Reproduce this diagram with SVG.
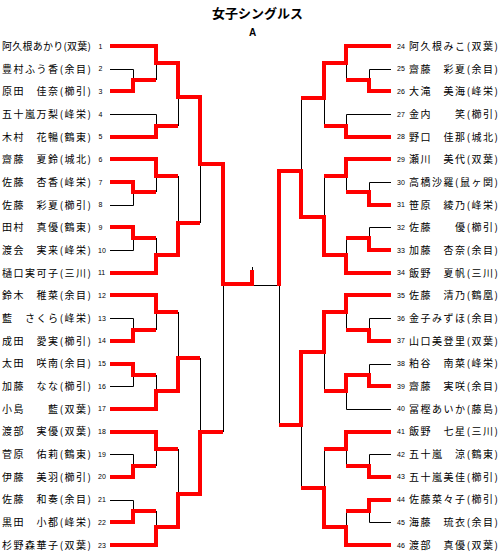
<svg xmlns="http://www.w3.org/2000/svg" width="503" height="559" viewBox="0 0 503 559">
<style>
.bg{fill:#ffffff}
.nm{font-family:"Noto Sans CJK JP","Noto Sans CJK SC",sans-serif;font-size:10px;fill:#000}
.num{font-family:"Liberation Sans",Arial,sans-serif;font-size:7px;fill:#000}
.ttl{font-family:"Noto Sans CJK JP",sans-serif;font-size:13px;font-weight:bold;fill:#000}
.ttlA{font-family:"Liberation Sans",Arial,sans-serif;font-size:10px;font-weight:bold;fill:#000}
.b{fill:none;stroke:#000;stroke-width:1}
.r{fill:none;stroke:#ff0000;stroke-width:4;stroke-linejoin:miter;stroke-linecap:butt}
</style>
<rect class="bg" x="0" y="0" width="503" height="559"/>
<g id="title">
<text class="ttl" x="257.5" y="18" text-anchor="middle">女子シングルス</text>
<text class="ttlA" x="252.5" y="36" text-anchor="middle">A</text>
</g>
<g id="connectors">
<!-- black skeleton -->
<path class="b" d="M110,69.5H133.5V80 M156.5,63V80 M110,114.5H156.5V126 M178.5,97V126"/>
<path class="b" d="M110,205.5H133.5V192 M156.5,176V192 M110,250.5H133.5V238 M156.5,238V255 M178.5,176V223 M200.5,164V223"/>
<path class="b" d="M110,318.5H133.5V330 M156.5,312V330 M110,386.5H133.5V375 M156.5,375V391 M178.5,312V358"/>
<path class="b" d="M110,454.5H133.5V466 M156.5,449V466 M110,500.5H133.5V511 M156.5,511V527 M178.5,449V494 M200.5,358V432"/>
<path class="b" d="M223.5,284V432 M252,285.5H279 M252.5,267V285"/>
<path class="b" d="M391,69.5H369.5V80 M346.5,63V80 M391,114.5H346.5V126 M324.5,98V126"/>
<path class="b" d="M391,182.5H369.5V192 M346.5,176V192 M391,227.5H369.5V238 M346.5,238V255 M324.5,176V217 M301.5,98V171"/>
<path class="b" d="M391,318.5H369.5V330 M346.5,312V330 M391,364.5H369.5V375 M391,409.5H346.5V391 M324.5,352V391"/>
<path class="b" d="M391,454.5H369.5V466 M346.5,449V466 M391,522.5H369.5V511 M346.5,511V527 M324.5,449V488 M301.5,425V488 M279.5,285V425"/>
<!-- red winners left -->
<path class="r" d="M110,91H133V80H156"/>
<path class="r" d="M110,46H156V63H178V97H200V164H223V284H252V270"/>
<path class="r" d="M110,137H156V126H178"/>
<path class="r" d="M110,182H133V192H156"/>
<path class="r" d="M110,159H156V176H178"/>
<path class="r" d="M110,227H133V238H156"/>
<path class="r" d="M110,273H156V255H178V223H200"/>
<path class="r" d="M110,341H133V330H156"/>
<path class="r" d="M110,295H156V312H178"/>
<path class="r" d="M110,364H133V375H156"/>
<path class="r" d="M110,409H156V391H178V358H200"/>
<path class="r" d="M110,477H133V466H156"/>
<path class="r" d="M110,432H156V449H178"/>
<path class="r" d="M110,522H133V511H156"/>
<path class="r" d="M110,545H156V527H178V494H200V432H223"/>
<!-- red winners right -->
<path class="r" d="M391,91H369V80H346"/>
<path class="r" d="M391,46H346V63H324V98H301"/>
<path class="r" d="M391,137H346V126H324"/>
<path class="r" d="M391,205H369V192H346"/>
<path class="r" d="M391,159H346V176H324"/>
<path class="r" d="M391,250H369V238H346"/>
<path class="r" d="M391,273H346V255H324V217H301V171H279V286"/>
<path class="r" d="M391,341H369V330H346"/>
<path class="r" d="M391,295H346V312H324V352H301V425H279"/>
<path class="r" d="M391,386H369V375H346V391H324"/>
<path class="r" d="M391,477H369V466H346"/>
<path class="r" d="M391,432H346V449H324"/>
<path class="r" d="M391,500H369V511H346"/>
<path class="r" d="M391,545H346V527H324V488H301"/>
</g>
<g id="left-players">
<g id="p1"><text class="nm" x="2" y="49.8" textLength="89">阿久根あかり(双葉)</text><text class="num" x="98.5" y="48.5">1</text></g>
<g id="p2"><text class="nm" x="2" y="72.5" textLength="89">豊村ふう香(余目)</text><text class="num" x="98.5" y="71.2">2</text></g>
<g id="p3"><text class="nm" x="2" y="95.2" textLength="89">原田　佳奈(櫛引)</text><text class="num" x="98.5" y="93.9">3</text></g>
<g id="p4"><text class="nm" x="2" y="117.8" textLength="89">五十嵐万梨(峰栄)</text><text class="num" x="98.5" y="116.5">4</text></g>
<g id="p5"><text class="nm" x="2" y="140.5" textLength="89">木村　花暢(鶴東)</text><text class="num" x="98.5" y="139.2">5</text></g>
<g id="p6"><text class="nm" x="2" y="163.2" textLength="89">齋藤　夏鈴(城北)</text><text class="num" x="98.5" y="161.9">6</text></g>
<g id="p7"><text class="nm" x="2" y="185.9" textLength="89">佐藤　杏香(峰栄)</text><text class="num" x="98.5" y="184.6">7</text></g>
<g id="p8"><text class="nm" x="2" y="208.6" textLength="89">佐藤　彩夏(櫛引)</text><text class="num" x="98.5" y="207.3">8</text></g>
<g id="p9"><text class="nm" x="2" y="231.2" textLength="89">田村　真優(鶴東)</text><text class="num" x="98.5" y="229.9">9</text></g>
<g id="p10"><text class="nm" x="2" y="253.9" textLength="89">渡会　実来(峰栄)</text><text class="num" x="98" y="252.6">10</text></g>
<g id="p11"><text class="nm" x="2" y="276.6" textLength="89">樋口実可子(三川)</text><text class="num" x="98" y="275.3">11</text></g>
<g id="p12"><text class="nm" x="2" y="299.3" textLength="89">鈴木　稚菜(余目)</text><text class="num" x="98" y="298">12</text></g>
<g id="p13"><text class="nm" x="2" y="322" textLength="89">藍　さくら(峰栄)</text><text class="num" x="98" y="320.7">13</text></g>
<g id="p14"><text class="nm" x="2" y="344.6" textLength="89">成田　愛実(櫛引)</text><text class="num" x="98" y="343.3">14</text></g>
<g id="p15"><text class="nm" x="2" y="367.3" textLength="89">太田　咲南(余目)</text><text class="num" x="98" y="366">15</text></g>
<g id="p16"><text class="nm" x="2" y="390" textLength="89">加藤　なな(櫛引)</text><text class="num" x="98" y="388.7">16</text></g>
<g id="p17"><text class="nm" x="2" y="412.7" textLength="89">小島　　藍(双葉)</text><text class="num" x="98" y="411.4">17</text></g>
<g id="p18"><text class="nm" x="2" y="435.4" textLength="89">渡部　実優(双葉)</text><text class="num" x="98" y="434.1">18</text></g>
<g id="p19"><text class="nm" x="2" y="458" textLength="89">菅原　佑莉(鶴東)</text><text class="num" x="98" y="456.7">19</text></g>
<g id="p20"><text class="nm" x="2" y="480.7" textLength="89">伊藤　美羽(櫛引)</text><text class="num" x="98" y="479.4">20</text></g>
<g id="p21"><text class="nm" x="2" y="503.4" textLength="89">佐藤　和奏(余目)</text><text class="num" x="98" y="502.1">21</text></g>
<g id="p22"><text class="nm" x="2" y="526.1" textLength="89">黒田　小都(峰栄)</text><text class="num" x="98" y="524.8">22</text></g>
<g id="p23"><text class="nm" x="2" y="548.8" textLength="89">杉野森華子(双葉)</text><text class="num" x="98" y="547.5">23</text></g>
</g>
<g id="right-players">
<g id="p24"><text class="num" x="397" y="48.5">24</text><text class="nm" x="409" y="49.8" textLength="89">阿久根みこ(双葉)</text></g>
<g id="p25"><text class="num" x="397" y="71.2">25</text><text class="nm" x="409" y="72.5" textLength="89">齋藤　彩夏(余目)</text></g>
<g id="p26"><text class="num" x="397" y="93.9">26</text><text class="nm" x="409" y="95.2" textLength="89">大滝　美海(峰栄)</text></g>
<g id="p27"><text class="num" x="397" y="116.5">27</text><text class="nm" x="409" y="117.8" textLength="89">金内　　笑(櫛引)</text></g>
<g id="p28"><text class="num" x="397" y="139.2">28</text><text class="nm" x="409" y="140.5" textLength="89">野口　佳那(城北)</text></g>
<g id="p29"><text class="num" x="397" y="161.9">29</text><text class="nm" x="409" y="163.2" textLength="89">瀬川　美代(双葉)</text></g>
<g id="p30"><text class="num" x="397" y="184.6">30</text><text class="nm" x="409" y="185.9" textLength="89">高橋沙羅(鼠ヶ関)</text></g>
<g id="p31"><text class="num" x="397" y="207.3">31</text><text class="nm" x="409" y="208.6" textLength="89">笹原　綾乃(峰栄)</text></g>
<g id="p32"><text class="num" x="397" y="229.9">32</text><text class="nm" x="409" y="231.2" textLength="89">佐藤　　優(櫛引)</text></g>
<g id="p33"><text class="num" x="397" y="252.6">33</text><text class="nm" x="409" y="253.9" textLength="89">加藤　杏奈(余目)</text></g>
<g id="p34"><text class="num" x="397" y="275.3">34</text><text class="nm" x="409" y="276.6" textLength="89">飯野　夏帆(三川)</text></g>
<g id="p35"><text class="num" x="397" y="298">35</text><text class="nm" x="409" y="299.3" textLength="89">佐藤　清乃(鶴凰)</text></g>
<g id="p36"><text class="num" x="397" y="320.7">36</text><text class="nm" x="409" y="322" textLength="89">金子みずほ(余目)</text></g>
<g id="p37"><text class="num" x="397" y="343.3">37</text><text class="nm" x="409" y="344.6" textLength="89">山口美登里(双葉)</text></g>
<g id="p38"><text class="num" x="397" y="366">38</text><text class="nm" x="409" y="367.3" textLength="89">粕谷　南菜(峰栄)</text></g>
<g id="p39"><text class="num" x="397" y="388.7">39</text><text class="nm" x="409" y="390" textLength="89">齋藤　実咲(余目)</text></g>
<g id="p40"><text class="num" x="397" y="411.4">40</text><text class="nm" x="409" y="412.7" textLength="89">冨樫あいか(藤島)</text></g>
<g id="p41"><text class="num" x="397" y="434.1">41</text><text class="nm" x="409" y="435.4" textLength="89">飯野　七星(三川)</text></g>
<g id="p42"><text class="num" x="397" y="456.7">42</text><text class="nm" x="409" y="458" textLength="89">五十嵐　涼(鶴東)</text></g>
<g id="p43"><text class="num" x="397" y="479.4">43</text><text class="nm" x="409" y="480.7" textLength="89">五十嵐美佳(櫛引)</text></g>
<g id="p44"><text class="num" x="397" y="502.1">44</text><text class="nm" x="409" y="503.4" textLength="89">佐藤菜々子(櫛引)</text></g>
<g id="p45"><text class="num" x="397" y="524.8">45</text><text class="nm" x="409" y="526.1" textLength="89">海藤　琉衣(余目)</text></g>
<g id="p46"><text class="num" x="397" y="547.5">46</text><text class="nm" x="409" y="548.8" textLength="89">渡部　真優(双葉)</text></g>
</g>
</svg>
